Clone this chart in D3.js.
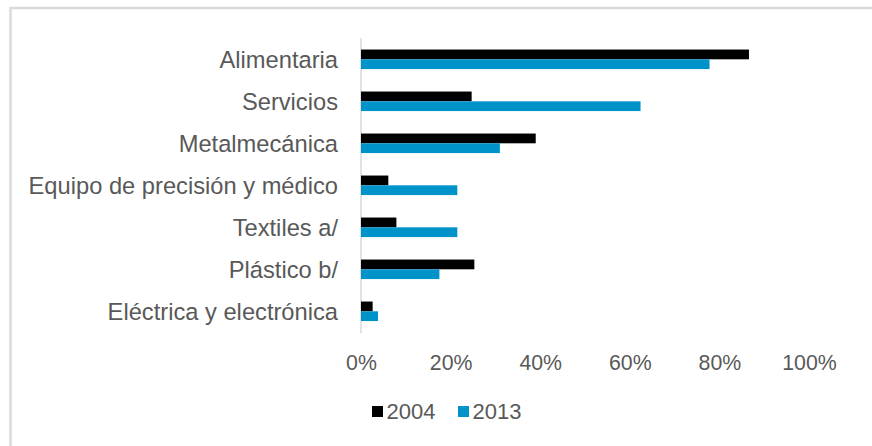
<!DOCTYPE html>
<html>
<head>
<meta charset="utf-8">
<script src="https://cdn.jsdelivr.net/npm/d3@7"></script>
<style>
  html, body { margin: 0; padding: 0; background: #fff; }
  svg { display: block; font-family: "Liberation Sans", Arial, sans-serif; }
</style>
</head>
<body>
<svg id="chart" width="872" height="446"></svg>
<script>
// Sectors and their shares for each year
const categories = [
  "Alimentaria",
  "Servicios",
  "Metalmecánica",
  "Equipo de precisión y médico",
  "Textiles a/",
  "Plástico b/",
  "Eléctrica y electrónica"
];
const series = ["2004", "2013"];
const values2004 = [0.866, 0.247, 0.39, 0.061, 0.079, 0.253, 0.026];
const values2013 = [0.778, 0.624, 0.31, 0.215, 0.215, 0.175, 0.038];
const tickValues = [0, 0.2, 0.4, 0.6, 0.8, 1.0];
const colors = ["#000000", "#0093c9"];

const svg = d3.select("#chart");
const textColor = "#595959";

// Outer frame
svg.append("rect")
  .attr("x", 10.5).attr("y", 8)
  .attr("width", 900).attr("height", 500)
  .attr("fill", "#fff")
  .attr("stroke", "#dadada")
  .attr("stroke-width", 2.5);

const x = d3.scaleLinear().domain([0, 1]).range([361, 809]);
const y0 = d3.scaleBand().domain(categories).range([38.3, 332.3])
  .paddingInner(0.535).paddingOuter(0.2675);
const y1 = d3.scaleBand().domain(series).range([0, y0.bandwidth()]);

const rows = categories.map((c, i) => ({
  cat: c,
  vals: [values2004[i], values2013[i]]
}));

// Category axis line
svg.append("line")
  .attr("x1", x(0)).attr("x2", x(0))
  .attr("y1", y0.range()[0]).attr("y2", y0.range()[1] + 1)
  .attr("stroke", "#d9d9d9").attr("stroke-width", 1.5);

// Bars
const groups = svg.append("g").selectAll("g")
  .data(rows).join("g")
  .attr("transform", d => `translate(0,${y0(d.cat)})`);

groups.selectAll("rect")
  .data(d => d.vals.map((v, j) => ({ s: series[j], v, j })))
  .join("rect")
  .attr("x", x(0))
  .attr("y", d => y1(d.s))
  .attr("width", d => x(d.v) - x(0))
  .attr("height", y1.bandwidth())
  .attr("fill", d => colors[d.j]);

// Category labels
svg.append("g").selectAll("text")
  .data(categories).join("text")
  .attr("x", 338)
  .attr("y", d => y0(d) + y0.bandwidth() / 2)
  .attr("dy", "0.35em")
  .attr("text-anchor", "end")
  .attr("font-size", 23.7)
  .attr("fill", textColor)
  .text(d => d);

// Value axis
const xAxis = d3.axisBottom(x)
  .tickValues(tickValues)
  .tickFormat(d3.format(".0%"))
  .tickSize(0)
  .tickPadding(21.5);

const ax = svg.append("g")
  .attr("transform", `translate(0,333)`)
  .call(xAxis);
ax.select(".domain").remove();
ax.selectAll("text")
  .attr("font-size", 21.3)
  .attr("font-family", "Liberation Sans, Arial, sans-serif")
  .attr("fill", textColor);

// Legend
const legendX = [372, 458];
const legend = svg.append("g").selectAll("g")
  .data(series).join("g")
  .attr("transform", (d, i) => `translate(${legendX[i]},406)`);
legend.append("rect")
  .attr("width", 11).attr("height", 11)
  .attr("fill", (d, i) => colors[i]);
legend.append("text")
  .attr("x", 14.5).attr("y", 5.5)
  .attr("dy", "0.36em")
  .attr("font-size", 22)
  .attr("fill", textColor)
  .text(d => d);
</script>
</body>
</html>
